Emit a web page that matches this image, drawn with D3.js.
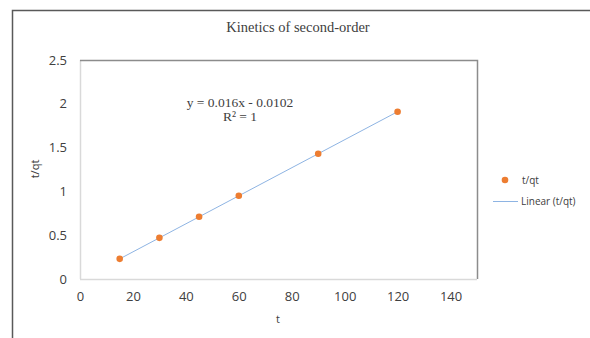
<!DOCTYPE html>
<html>
<head>
<meta charset="utf-8">
<script src="https://cdn.jsdelivr.net/npm/d3@7/dist/d3.min.js"></script>
<style>
  html, body { margin: 0; padding: 0; background: #fff; }
  svg { display: block; }
</style>
</head>
<body>
<svg id="chart" width="590" height="338"></svg>
<script>
// Sampling times and measured t/qt values
const times = [15, 30, 45, 60, 90, 120];
const tOverQt = [0.23, 0.47, 0.71, 0.95, 1.43, 1.91];

// Linear fit reported for the series
const slope = 0.016;
const intercept = -0.0102;
const fitLabel = "y = 0.016x - 0.0102";
const r2Label = "R² = 1";

// Axis ticks
const xTicks = [0, 20, 40, 60, 80, 100, 120, 140];
const yTicks = [0, 0.5, 1, 1.5, 2, 2.5];

const svg = d3.select("#chart");
const W = 590, H = 338;

const plot = { left: 80, right: 477, top: 60, bottom: 279 };

const x = d3.scaleLinear().domain([0, 150]).range([plot.left, plot.right]);
const y = d3.scaleLinear().domain([0, 2.5]).range([plot.bottom, plot.top]);

// Outer chart frame
svg.append("path")
  .attr("d", `M12.5,${H} L12.5,10.5 L${W},10.5`)
  .attr("fill", "none")
  .attr("stroke", "#595959")
  .attr("stroke-width", 1.5);

// Title
svg.append("text")
  .attr("x", 298).attr("y", 32)
  .attr("text-anchor", "middle")
  .attr("font-family", "Liberation Serif, Times New Roman, serif")
  .attr("font-size", 14.5)
  .attr("fill", "#404040")
  .text("Kinetics of second-order");

// Plot area border: light left/bottom, darker top/right
svg.append("line")
  .attr("x1", plot.left + 0.5).attr("x2", plot.left + 0.5)
  .attr("y1", plot.top).attr("y2", plot.bottom)
  .attr("stroke", "#d9d9d9").attr("stroke-width", 1.5);
svg.append("path")
  .attr("d", `M${plot.left},${plot.top + 0.5} L${plot.right + 0.5},${plot.top + 0.5} L${plot.right + 0.5},${plot.bottom}`)
  .attr("fill", "none")
  .attr("stroke", "#8c8c8c").attr("stroke-width", 1.5);

// X axis
const xAxis = d3.axisBottom(x).tickValues(xTicks).tickSize(0).tickPadding(13).tickFormat(d3.format("d"));
const gx = svg.append("g").attr("transform", `translate(0,${plot.bottom})`).call(xAxis);
gx.select(".domain").attr("stroke", "#d9d9d9").attr("stroke-width", 1.5)
  .attr("d", `M${plot.left},0.5H${plot.right}`);
gx.selectAll("text")
  .attr("font-family", "Open Sans, Liberation Sans, sans-serif")
  .attr("font-size", 13).attr("fill", "#404040");

// Y axis
const yAxis = d3.axisLeft(y).tickValues(yTicks).tickSize(0).tickPadding(13).tickFormat(d => String(d));
const gy = svg.append("g").attr("transform", `translate(${plot.left},0)`).call(yAxis);
gy.select(".domain").remove();
gy.selectAll("text")
  .attr("font-family", "Open Sans, Liberation Sans, sans-serif")
  .attr("font-size", 13).attr("fill", "#404040");

// Axis titles
svg.append("text")
  .attr("x", 278).attr("y", 323)
  .attr("text-anchor", "middle")
  .attr("font-family", "Open Sans, Liberation Sans, sans-serif")
  .attr("font-size", 11).attr("fill", "#404040")
  .text("t");
svg.append("text")
  .attr("transform", "translate(39,169) rotate(-90)")
  .attr("text-anchor", "middle")
  .attr("font-family", "Open Sans, Liberation Sans, sans-serif")
  .attr("font-size", 11).attr("fill", "#404040")
  .text("t/qt");

// Linear trendline over the data range
const xMin = d3.min(times), xMax = d3.max(times);
svg.append("line")
  .attr("x1", x(xMin)).attr("y1", y(slope * xMin + intercept))
  .attr("x2", x(xMax)).attr("y2", y(slope * xMax + intercept))
  .attr("stroke", "#8eb4e3").attr("stroke-width", 1);

// Data points
svg.append("g").selectAll("circle")
  .data(times.map((t, i) => ({ t, v: tOverQt[i] })))
  .join("circle")
  .attr("cx", d => x(d.t))
  .attr("cy", d => y(d.v))
  .attr("r", 3.3)
  .attr("fill", "#ed7d31");

// Fit equation label
const eq = svg.append("text")
  .attr("text-anchor", "middle")
  .attr("font-family", "Liberation Serif, Times New Roman, serif")
  .attr("font-size", 13.5).attr("fill", "#404040");
eq.append("tspan").attr("x", 240).attr("y", 107).text(fitLabel);
eq.append("tspan").attr("x", 240).attr("y", 121).text(r2Label);

// Legend
svg.append("circle").attr("cx", 505).attr("cy", 180).attr("r", 3.3).attr("fill", "#ed7d31");
svg.append("text").attr("x", 522).attr("y", 184)
  .attr("font-family", "Open Sans, Liberation Sans, sans-serif")
  .attr("font-size", 10).attr("fill", "#404040").text("t/qt");
svg.append("line").attr("x1", 493).attr("x2", 518).attr("y1", 201.5).attr("y2", 201.5)
  .attr("stroke", "#8eb4e3").attr("stroke-width", 1);
svg.append("text").attr("x", 521).attr("y", 205)
  .attr("font-family", "Open Sans, Liberation Sans, sans-serif")
  .attr("font-size", 10).attr("fill", "#404040").text("Linear (t/qt)");
</script>
</body>
</html>
